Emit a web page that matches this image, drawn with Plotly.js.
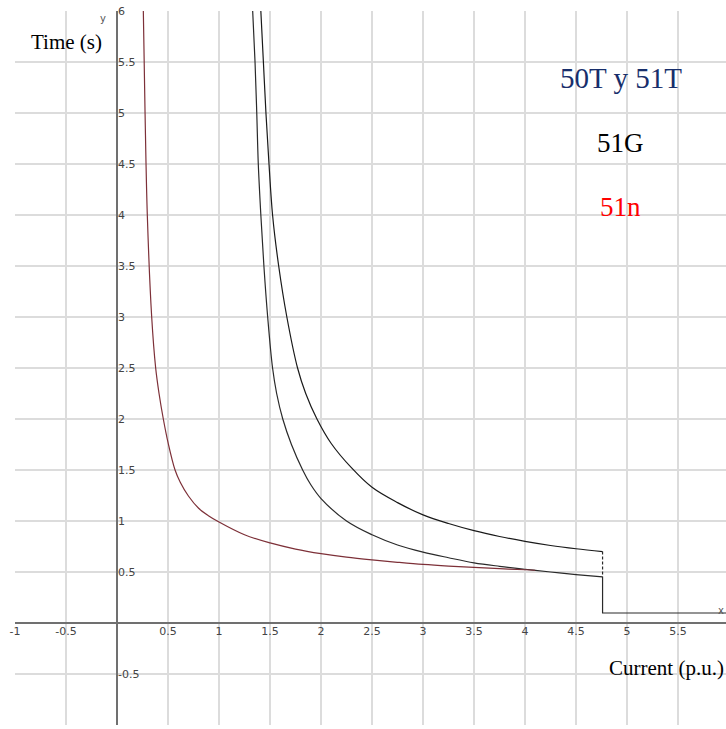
<!DOCTYPE html>
<html>
<head>
<meta charset="utf-8">
<script src="https://cdn.plot.ly/plotly-3.0.1.min.js"></script>
<style>html,body{margin:0;padding:0;background:#fff;}#chart{width:726px;height:729px;}</style>
</head>
<body>
<div id="chart"></div>
<script>
// 51n curve
const redX = [0.258,0.275,0.297,0.34,0.379,0.412,0.454,0.5,0.569,0.62,0.7,0.8,0.9,1.0,1.25,1.5,1.75,2.0,2.25,2.5,2.75,3.0,3.25,3.5,3.75,4.0,4.1];
const redY = [6.0,5.0,4.0,3.0,2.5,2.25,2.0,1.77,1.5,1.38,1.245,1.125,1.05,0.99,0.865,0.785,0.725,0.68,0.645,0.618,0.595,0.574,0.558,0.545,0.533,0.522,0.517];
// 51G curve (lower black)
const lowX = [1.33,1.353,1.37,1.385,1.41,1.44,1.477,1.525,1.565,1.625,1.71,1.82,1.9,2.0,2.25,2.5,2.75,3.0,3.25,3.5,3.75,4.0,4.25,4.5,4.76];
const lowY = [6.0,5.5,5.0,4.5,4.0,3.5,3.0,2.5,2.25,2.0,1.75,1.5,1.355,1.22,1.0,0.865,0.765,0.695,0.64,0.59,0.556,0.527,0.5,0.475,0.452];
// 50T y 51T curve (upper black)
const upX = [1.41,1.435,1.46,1.49,1.525,1.585,1.665,1.77,1.85,1.96,2.1,2.3,2.5,2.75,3.0,3.25,3.5,3.75,4.0,4.25,4.5,4.76];
const upY = [6.0,5.5,5.0,4.5,4.0,3.5,3.0,2.5,2.25,2.0,1.76,1.52,1.33,1.18,1.06,0.975,0.905,0.848,0.80,0.76,0.728,0.70];
// instantaneous step
const stepX = [4.76,4.76,5.97];
const stepY = [0.452,0.098,0.098];
const dashX = [4.76,4.76];
const dashY = [0.70,0.452];
// ticks
const xTicks = [-1,-0.5,0.5,1,1.5,2,2.5,3,3.5,4,4.5,5,5.5];
const yTicks = [-1,-0.5,0.5,1,1.5,2,2.5,3,3.5,4,4.5,5,5.5,6];
// labels
const curveLabels = ["50T y 51T","51G","51n"];
const curveLabelColors = ["#172e6b","#000000","#ff0000"];

const curveStyle = (c) => ({color:c, width:1.2, shape:'spline', smoothing:1});
const traces = [
  {x:upX, y:upY, mode:'lines', line:curveStyle('#1a1a1a'), hoverinfo:'skip'},
  {x:lowX, y:lowY, mode:'lines', line:curveStyle('#2a2a2a'), hoverinfo:'skip'},
  {x:redX, y:redY, mode:'lines', line:curveStyle('#7d3038'), hoverinfo:'skip'},
  {x:stepX, y:stepY, mode:'lines', line:{color:'#2a2a2a', width:1.2}, hoverinfo:'skip'},
  {x:dashX, y:dashY, mode:'lines', line:{color:'#2a2a2a', width:1.2, dash:'3px,2px'}, hoverinfo:'skip'}
];

const ann = [
  {x:-0.5, y:5.70, text:'Time (s)', showarrow:false, font:{family:'Liberation Serif', size:21, color:'#000'}},
  {x:5.39, y:-0.44, text:'Current (p.u.)', showarrow:false, font:{family:'Liberation Serif', size:21, color:'#000'}},
  {x:-0.137, y:5.93, text:'y', showarrow:false, font:{family:'DejaVu Sans', size:10, color:'#555'}},
  {x:5.97, y:0.125, text:'x', xanchor:'right', showarrow:false, font:{family:'DejaVu Sans', size:10, color:'#555'}}
];
const labelY = [5.34, 4.71, 4.08];
const labelSizes = [29, 27, 27];
curveLabels.forEach((t,i) => ann.push({x:4.94, y:labelY[i], text:t, showarrow:false,
  font:{family:'Liberation Serif', size:labelSizes[i], color:curveLabelColors[i]}}));

const layout = {
  width:726, height:729,
  margin:{l:15, r:0, t:11, b:4},
  paper_bgcolor:'#fff', plot_bgcolor:'#fff',
  showlegend:false,
  xaxis:{range:[-1,5.97], tickvals:xTicks, ticktext:xTicks.map(String), anchor:'free', position:1/7,
    showgrid:true, gridcolor:'#dcdcdc', gridwidth:1.5, zeroline:true, zerolinecolor:'#707070', zerolinewidth:2,
    showline:false, ticks:'', tickfont:{family:'DejaVu Sans', size:11, color:'#444'}, fixedrange:true},
  yaxis:{range:[-1,6], tickvals:yTicks, ticktext:yTicks.map(String), anchor:'free', position:102/711, side:'right',
    showgrid:true, gridcolor:'#dcdcdc', gridwidth:1.5, zeroline:true, zerolinecolor:'#707070', zerolinewidth:2,
    showline:false, ticks:'', tickfont:{family:'DejaVu Sans', size:11, color:'#444'}, fixedrange:true},
  annotations:ann
};
Plotly.newPlot('chart', traces, layout, {displayModeBar:false, staticPlot:true});
</script>
</body>
</html>
